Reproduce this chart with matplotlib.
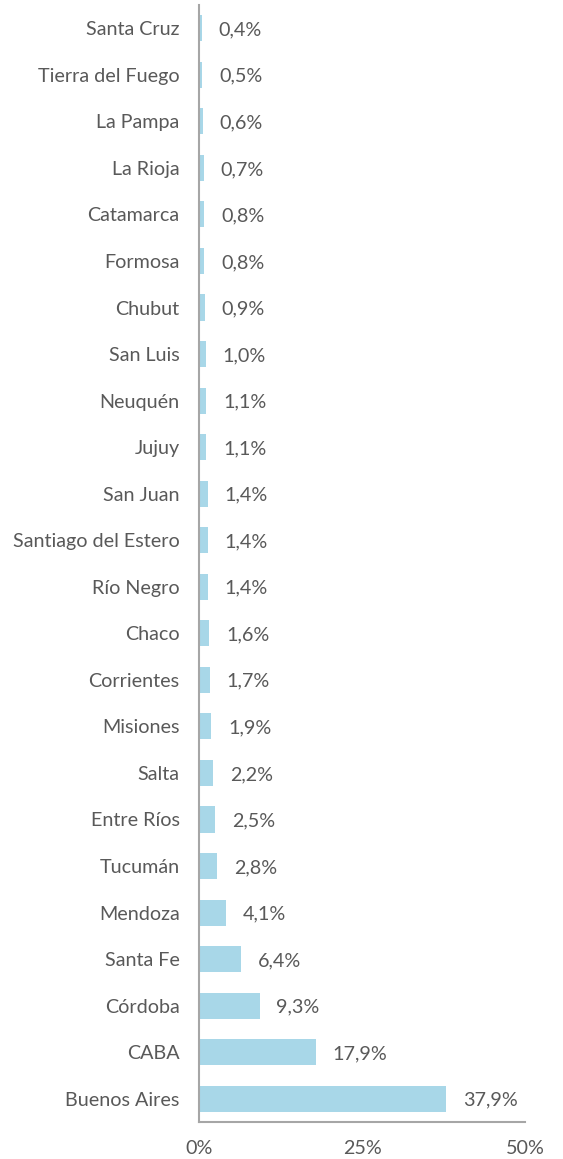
import matplotlib.pyplot as plt

provincias = ['Buenos Aires', 'CABA', 'Córdoba', 'Santa Fe', 'Mendoza', 'Tucumán',
              'Entre Ríos', 'Salta', 'Misiones', 'Corrientes', 'Chaco', 'Río Negro',
              'Santiago del Estero', 'San Juan', 'Jujuy', 'Neuquén', 'San Luis',
              'Chubut', 'Formosa', 'Catamarca', 'La Rioja', 'La Pampa',
              'Tierra del Fuego', 'Santa Cruz']
porcentajes = [37.9, 17.9, 9.3, 6.4, 4.1, 2.8, 2.5, 2.2, 1.9, 1.7, 1.6, 1.4,
               1.4, 1.4, 1.1, 1.1, 1.0, 0.9, 0.8, 0.8, 0.7, 0.6, 0.5, 0.4]
ticks = [0, 25, 50]

plt.rcParams['font.family'] = ['Lato', 'DejaVu Sans']
text_color = '#595959'
axis_color = '#a6a6a6'
fs = 14.2

fig = plt.figure(figsize=(5.63, 11.59), dpi=100)
ax = fig.add_axes([0.3535, 0.0319, 0.579, 0.9638])

y = list(range(len(provincias)))
ax.barh(y, porcentajes, height=0.56, color='#a8d7e8')

# etiquetas de valor al final de cada barra
for yi, v in zip(y, porcentajes):
    ax.annotate(f'{v:.1f}%'.replace('.', ','), (v, yi), xytext=(12, 0),
                textcoords='offset points', va='center_baseline', ha='left',
                fontsize=fs, color=text_color)

ax.set_xlim(0, 50)
ax.set_ylim(-0.5, len(provincias) - 0.5)
ax.set_yticks(y)
ax.set_yticklabels(provincias, fontsize=fs, color=text_color)
ax.set_xticks(ticks)
ax.set_xticklabels([f'{t}%' for t in ticks], fontsize=fs, color=text_color)
ax.tick_params(axis='y', length=0, pad=14)
ax.tick_params(axis='x', length=0, pad=13)

for s in ['top', 'right']:
    ax.spines[s].set_visible(False)
for s in ['left', 'bottom']:
    ax.spines[s].set_color(axis_color)
    ax.spines[s].set_linewidth(1.5)

fig.savefig('out.png', dpi=100)
